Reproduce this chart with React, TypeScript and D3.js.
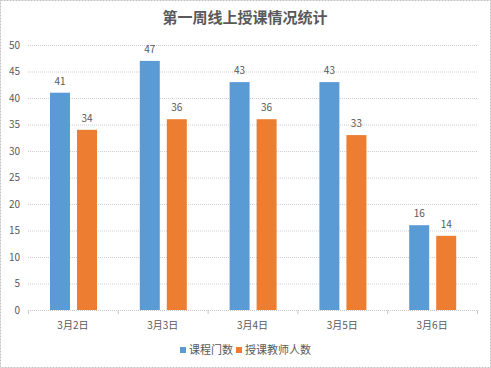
import React, { useEffect, useRef } from "react";
import * as d3 from "d3";

const categories = ["3月2日", "3月3日", "3月4日", "3月5日", "3月6日"];
const courses = [41, 47, 43, 43, 16];
const teachers = [34, 36, 36, 33, 14];
const seriesNames = ["课程门数", "授课教师人数"];
const yTicks = [0, 5, 10, 15, 20, 25, 30, 35, 40, 45, 50];

const W = 491;
const H = 368;
const colors = ["#5b9bd5", "#ed7d31"];
const font = "'Noto Sans CJK SC', 'Microsoft YaHei', sans-serif";

const App = () => {
    const ref = useRef(null);

    useEffect(() => {
        const svg = d3.select(ref.current);
        svg.selectAll("*").remove();

        const left = 28, right = 477, top = 45, bottom = 310;

        const x = d3.scaleBand().domain(categories).range([left, right]);
        const y = d3.scaleLinear().domain([0, 50]).range([bottom, top]);
        const inner = d3.scaleBand().domain(["0", "1"]).range([22, 69]).paddingInner(0.26);

        // border
        svg.append("rect")
            .attr("x", 0.5).attr("y", 0.5)
            .attr("width", W - 1).attr("height", H - 1)
            .attr("fill", "white")
            .attr("stroke", "#bfbfbf")
            .attr("stroke-dasharray", "2,1");

        svg.append("text")
            .attr("x", 245).attr("y", 23)
            .attr("text-anchor", "middle")
            .style("font-family", font)
            .style("font-size", "15px")
            .style("font-weight", "bold")
            .style("fill", "#595959")
            .text("第一周线上授课情况统计");

        // grid
        svg.append("g").selectAll("line")
            .data(yTicks.filter(d => d > 0))
            .enter().append("line")
            .attr("x1", left).attr("x2", right)
            .attr("y1", d => y(d) + 0.5).attr("y2", d => y(d) + 0.5)
            .attr("stroke", "#d0d0d0")
            .attr("stroke-dasharray", "1,1");

        svg.append("g").selectAll("text")
            .data(yTicks)
            .enter().append("text")
            .attr("x", 20).attr("y", d => y(d))
            .attr("dy", "0.35em")
            .attr("text-anchor", "end")
            .style("font-family", font)
            .style("font-size", "10px")
            .style("fill", "#595959")
            .text(d => d);

        // x axis
        svg.append("line")
            .attr("x1", left).attr("x2", right)
            .attr("y1", bottom + 0.5).attr("y2", bottom + 0.5)
            .attr("stroke", "#c8c8c8")
            .attr("stroke-dasharray", "1,1");

        svg.append("g").selectAll("line")
            .data(d3.range(categories.length + 1))
            .enter().append("line")
            .attr("x1", i => left + i * x.step() + 0.5)
            .attr("x2", i => left + i * x.step() + 0.5)
            .attr("y1", bottom).attr("y2", bottom + 4)
            .attr("stroke", "#c8c8c8");

        svg.append("g").selectAll("text")
            .data(categories)
            .enter().append("text")
            .attr("x", d => x(d) + x.bandwidth() / 2)
            .attr("y", 329)
            .attr("text-anchor", "middle")
            .style("font-family", font)
            .style("font-size", "10px")
            .style("fill", "#595959")
            .text(d => d);

        [courses, teachers].forEach((vals, s) => {
            const g = svg.append("g");
            g.selectAll("rect")
                .data(vals)
                .enter().append("rect")
                .attr("x", (d, i) => x(categories[i]) + inner(String(s)))
                .attr("y", d => y(d))
                .attr("width", inner.bandwidth())
                .attr("height", d => bottom - y(d))
                .attr("fill", colors[s]);
            g.selectAll("text")
                .data(vals)
                .enter().append("text")
                .attr("x", (d, i) => x(categories[i]) + inner(String(s)) + inner.bandwidth() / 2)
                .attr("y", d => y(d) - 8)
                .attr("text-anchor", "middle")
                .style("font-family", font)
                .style("font-size", "10px")
                .style("fill", "#595959")
                .text(d => d);
        });

        // legend
        const legend = svg.append("g");
        const lx = [180, 236];
        seriesNames.forEach((name, i) => {
            legend.append("rect")
                .attr("x", lx[i]).attr("y", 347)
                .attr("width", 6).attr("height", 6)
                .attr("fill", colors[i]);
            legend.append("text")
                .attr("x", lx[i] + 9).attr("y", 350)
                .attr("dy", "0.35em")
                .style("font-family", font)
                .style("font-size", "11px")
                .style("fill", "#595959")
                .text(name);
        });
    }, []);

    return <svg ref={ref} width={W} height={H} style={{ position: "absolute", left: 0, top: 0 }} />;
};

export default App;
